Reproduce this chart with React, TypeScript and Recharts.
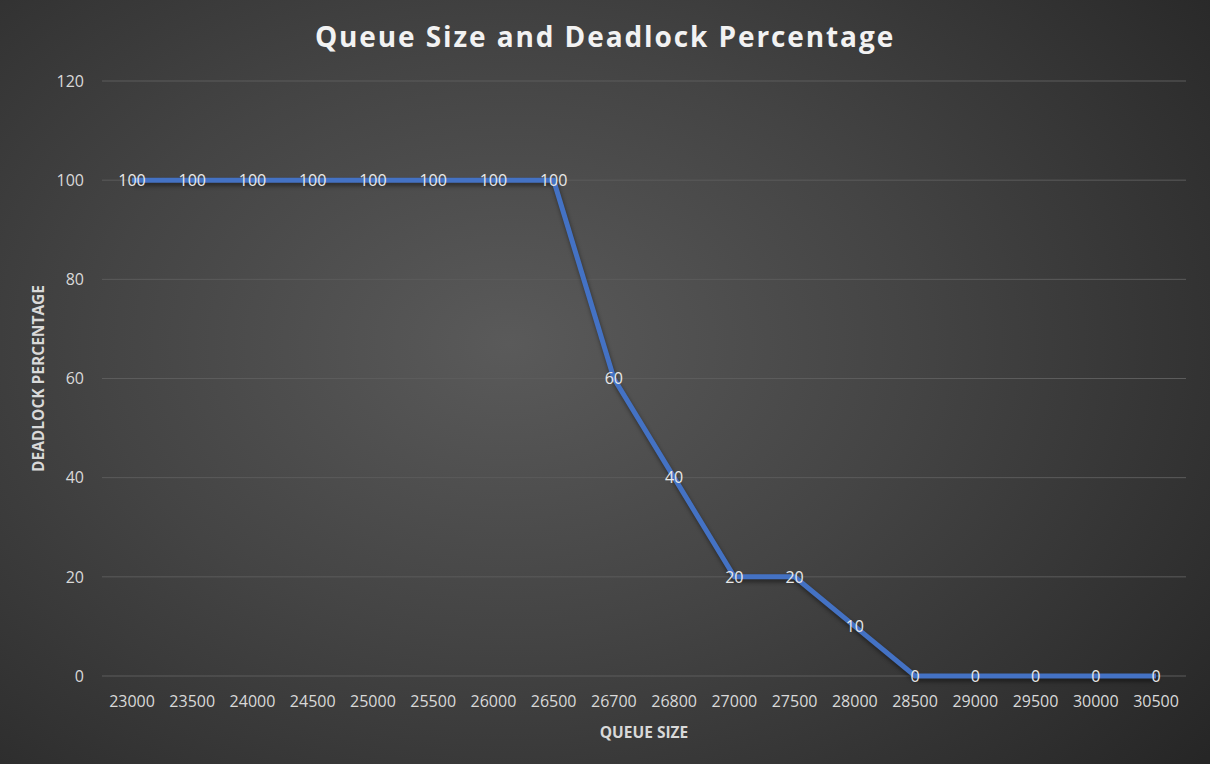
import React from 'react';
import { LineChart, Line, XAxis, YAxis, CartesianGrid, LabelList } from 'recharts';

const queueSizes = [
  '23000', '23500', '24000', '24500', '25000', '25500', '26000', '26500', '26700',
  '26800', '27000', '27500', '28000', '28500', '29000', '29500', '30000', '30500',
];
const deadlockPct = [100, 100, 100, 100, 100, 100, 100, 100, 60, 40, 20, 20, 10, 0, 0, 0, 0, 0];
const yTicks = [0, 20, 40, 60, 80, 100, 120];

const chartData = queueSizes.map((size, i) => ({ size, pct: deadlockPct[i] }));

const FONT = '"Open Sans", "Noto Sans", sans-serif';
const TEXT = '#d9d9d9';

export default function App() {
  return (
    <div
      style={{
        position: 'absolute',
        left: 0,
        top: 0,
        width: 1210,
        height: 764,
        background: 'radial-gradient(ellipse 75% 85% at 42% 45%, #5a5a5a 0%, #444 45%, #262626 100%)',
        fontFamily: FONT,
      }}
    >
      <div
        style={{
          position: 'absolute',
          top: 17,
          left: 0,
          width: 1210,
          textAlign: 'center',
          color: '#f2f2f2',
          fontSize: 28,
          fontWeight: 700,
          letterSpacing: 1.9,
        }}
      >
        Queue Size and Deadlock Percentage
      </div>
      <LineChart width={1210} height={764} data={chartData} margin={{ top: 81, right: 24, bottom: 0, left: 0 }}>
        <CartesianGrid vertical={false} stroke="#5c5c5c" strokeWidth={1} />
        <XAxis
          dataKey="size"
          height={88}
          padding={{ left: 30, right: 30 }}
          tickLine={false}
          axisLine={false}
          tickSize={0}
          tickMargin={20}
          tick={{ fill: TEXT, fontSize: 16, fontFamily: FONT }}
          interval={0}
          label={{
            value: 'QUEUE SIZE',
            position: 'insideBottom',
            offset: 26,
            fill: TEXT,
            fontSize: 15.5,
            fontWeight: 700,
            fontFamily: FONT,
          }}
        />
        <YAxis
          width={102}
          domain={[0, 120]}
          ticks={yTicks}
          tickLine={false}
          axisLine={false}
          tickSize={0}
          tickMargin={18}
          tick={{ fill: TEXT, fontSize: 16, fontFamily: FONT }}
          label={{
            value: 'DEADLOCK PERCENTAGE',
            angle: -90,
            position: 'insideLeft',
            offset: 38,
            fill: TEXT,
            fontSize: 15.5,
            fontWeight: 700,
            fontFamily: FONT,
            style: { textAnchor: 'middle' },
          }}
        />
        <Line
          type="linear"
          dataKey="pct"
          stroke="#4472c4"
          strokeWidth={5}
          dot={false}
          isAnimationActive={false}
          style={{ filter: 'drop-shadow(1px 3px 2px rgba(0,0,0,0.45))' }}
        >
          <LabelList dataKey="pct" position="center" fill="#e8e8e8" fontSize={16} fontFamily={FONT} />
        </Line>
      </LineChart>
    </div>
  );
}
